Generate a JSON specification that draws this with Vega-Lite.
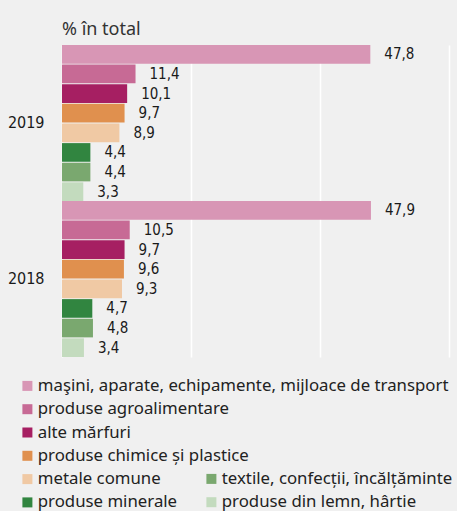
{
  "$schema": "https://vega.github.io/schema/vega-lite/v6.json",
  "autosize": {"type": "none"},
  "padding": {"left": 62, "top": 45, "right": 8, "bottom": 154},
  "width": 387,
  "height": 312,
  "background": "#f0f0f0",
  "title": {"text": "% în total", "anchor": "start", "frame": "group", "font": "Noto Sans", "fontSize": 18, "fontWeight": "normal", "color": "#333333", "offset": 6},
  "config": {
    "view": {"stroke": null},
    "locale": {"number": {"decimal": ",", "thousands": ".", "grouping": [3], "currency": ["", ""]}}
  },
  "data": {"values": [
    {"year": "2019", "cat": "maşini, aparate, echipamente, mijloace de transport", "value": 47.8},
    {"year": "2019", "cat": "produse agroalimentare", "value": 11.4},
    {"year": "2019", "cat": "alte mărfuri", "value": 10.1},
    {"year": "2019", "cat": "produse chimice și plastice", "value": 9.7},
    {"year": "2019", "cat": "metale comune", "value": 8.9},
    {"year": "2019", "cat": "produse minerale", "value": 4.4},
    {"year": "2019", "cat": "textile, confecții, încălțăminte", "value": 4.4},
    {"year": "2019", "cat": "produse din lemn, hârtie", "value": 3.3},
    {"year": "2018", "cat": "maşini, aparate, echipamente, mijloace de transport", "value": 47.9},
    {"year": "2018", "cat": "produse agroalimentare", "value": 10.5},
    {"year": "2018", "cat": "alte mărfuri", "value": 9.7},
    {"year": "2018", "cat": "produse chimice și plastice", "value": 9.6},
    {"year": "2018", "cat": "metale comune", "value": 9.3},
    {"year": "2018", "cat": "produse minerale", "value": 4.7},
    {"year": "2018", "cat": "textile, confecții, încălțăminte", "value": 4.8},
    {"year": "2018", "cat": "produse din lemn, hârtie", "value": 3.4}
  ]},
  "encoding": {
    "y": {"field": "year", "type": "nominal", "sort": ["2019", "2018"],
      "scale": {"paddingInner": 0, "paddingOuter": 0},
      "axis": {"title": null, "ticks": false, "domain": false, "labelFont": "Liberation Sans Narrow, DejaVu Sans Condensed, Roboto, sans-serif", "labelFontSize": 16, "labelColor": "#1a1a1a", "labelPadding": 18}},
    "yOffset": {"field": "cat", "type": "nominal",
      "scale": {"domain": ["maşini, aparate, echipamente, mijloace de transport", "produse agroalimentare", "alte mărfuri", "produse chimice și plastice", "metale comune", "produse minerale", "textile, confecții, încălțăminte", "produse din lemn, hârtie"], "paddingInner": 0.05, "paddingOuter": 0}},
    "x": {"field": "value", "type": "quantitative",
      "scale": {"domain": [0, 60], "nice": false},
      "axis": {"title": null, "labels": false, "ticks": false, "domain": false, "values": [0, 20, 40, 60], "gridColor": "#ffffff", "gridWidth": 1.5, "gridOpacity": 1}}
  },
  "layer": [
    {
      "transform": [{"filter": {"field": "cat", "oneOf": ["maşini, aparate, echipamente, mijloace de transport", "produse agroalimentare", "alte mărfuri", "produse chimice și plastice", "metale comune", "produse minerale"]}}],
      "mark": {"type": "bar"},
      "encoding": {
        "color": {"field": "cat", "type": "nominal",
          "scale": {"domain": ["maşini, aparate, echipamente, mijloace de transport", "produse agroalimentare", "alte mărfuri", "produse chimice și plastice", "metale comune", "produse minerale"],
                    "range": ["#d896b5", "#c76a95", "#a61f62", "#e0904e", "#f0c9a4", "#318540"]},
          "legend": {"title": null, "orient": "none", "legendX": -43, "legendY": 332.5, "direction": "vertical", "padding": 0,
            "symbolType": "square", "symbolSize": 100, "symbolStrokeWidth": 0, "labelFont": "Noto Sans", "labelFontSize": 16.8, "labelColor": "#222222", "labelLimit": 0, "labelOffset": 2, "rowPadding": 5.3}}
      }
    },
    {
      "transform": [{"filter": {"field": "cat", "oneOf": ["textile, confecții, încălțăminte", "produse din lemn, hârtie"]}}],
      "mark": {"type": "bar"},
      "encoding": {
        "color": {"field": "cat", "type": "nominal",
          "scale": {"domain": ["textile, confecții, încălțăminte", "produse din lemn, hârtie"], "range": ["#7aa86f", "#c3dbbe"]},
          "legend": {"title": null, "orient": "none", "legendX": 141, "legendY": 425.5, "direction": "vertical", "padding": 0,
            "symbolType": "square", "symbolSize": 100, "symbolStrokeWidth": 0, "labelFont": "Noto Sans", "labelFontSize": 16.8, "labelColor": "#222222", "labelLimit": 0, "labelOffset": 2, "rowPadding": 5.3}}
      }
    },
    {
      "mark": {"type": "text", "align": "left", "baseline": "middle", "dx": 14, "font": "Liberation Sans Narrow, DejaVu Sans Condensed, Roboto, sans-serif", "fontSize": 15, "color": "#1a1a1a"},
      "encoding": {"text": {"field": "value", "type": "quantitative", "format": ".1f"}}
    }
  ],
  "resolve": {"scale": {"color": "independent"}}
}
